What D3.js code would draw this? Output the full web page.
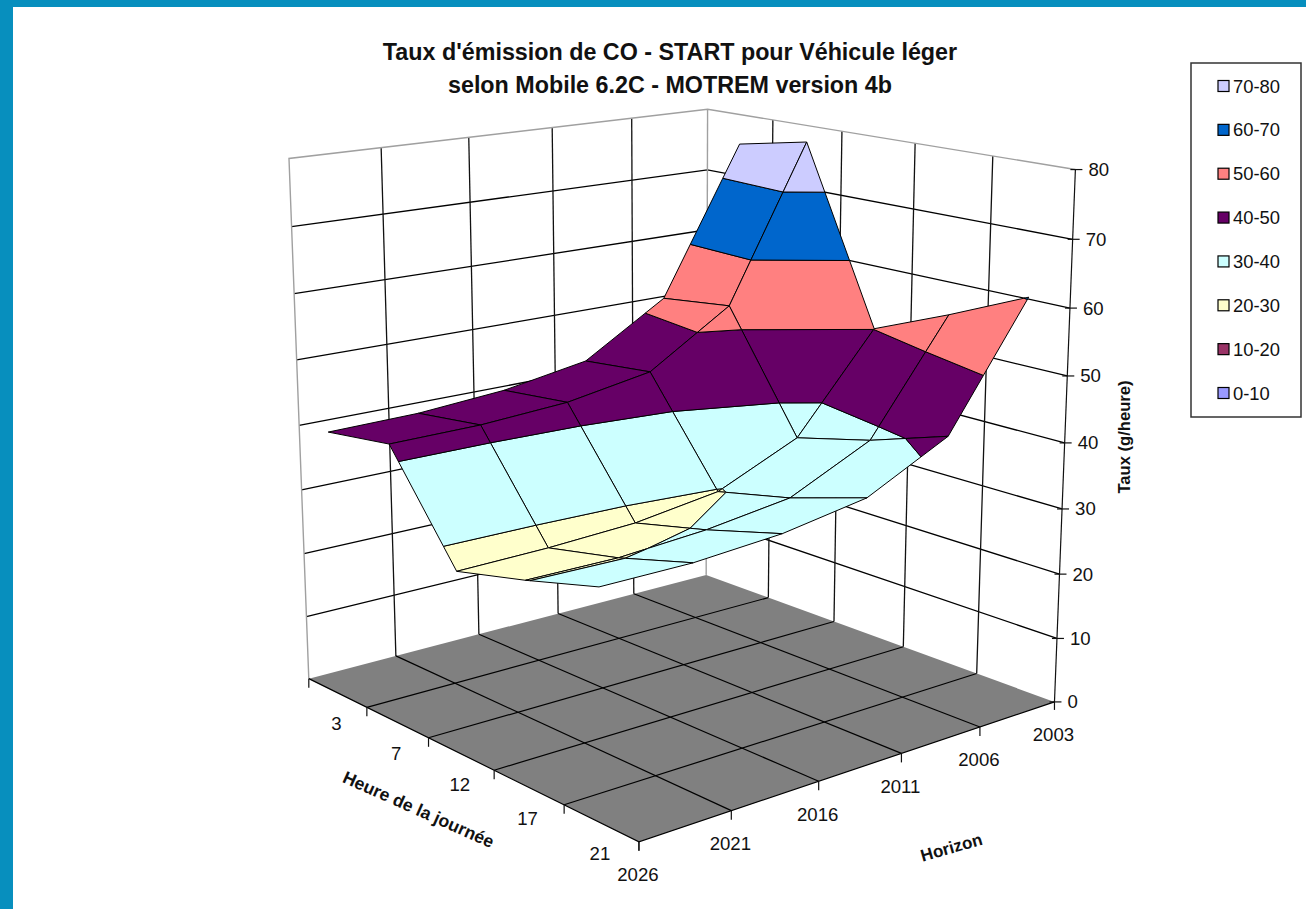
<!DOCTYPE html>
<html><head><meta charset="utf-8"><style>html,body{margin:0;background:#fff}svg{display:block}text{font-family:"Liberation Sans",Arial,sans-serif;fill:#111}</style>
<script src="https://cdn.jsdelivr.net/npm/d3@7/dist/d3.min.js"></script></head><body><svg id="c" width="1306" height="909"></svg>
<script>
// ---- data ----
const hours=[3,7,12,17,21];
const horizons=[2026,2021,2016,2011,2006,2003];
const taux2026=[40.6,42.1,27.1,29.8,32.9];
const taux2021=[40.8,42.2,27.3,29.7,32.9];
const taux2016=[41.8,43.0,27.9,30.6,33.8];
const taux2011=[44.0,45.2,29.7,32.3,35.9];
const taux2006=[51.9,53.3,35.3,38.2,42.1];
const taux2003=[75.2,77.4,50.1,55.0,60.3];
const tauxRows=[taux2026,taux2021,taux2016,taux2011,taux2006,taux2003];
const bandLabels=["0-10","10-20","20-30","30-40","40-50","50-60","60-70","70-80"];
const bandColors=["#9999ff","#993366","#ffffcc","#ccffff","#660066","#ff8080","#0066cc","#ccccff"];
const titleLines=["Taux d'émission de CO - START pour Véhicule léger","selon Mobile 6.2C - MOTREM version 4b"];

// ---- scales and 3D view ----
const uS=d3.scaleBand().domain(hours).range([0,1]);
const vS=d3.scalePoint().domain(horizons).range([0,1]);
const zS=d3.scaleLinear().domain([0,80]).range([0,1]);
const uC=h=>uS(h)+uS.bandwidth()/2;
const m=[0.2365418,0.4838895,-0.0346111,0.3088041,0.0397999,-0.0333340,-0.5282925,0.6786529,-0.1464674,0.1225374,-0.0511763];
function proj(u,v,z){const w=m[8]*u+m[9]*v+m[10]*z+1;return [1000*(m[0]*u+m[1]*v+m[2]*z+m[3])/w,1000*(m[4]*u+m[5]*v+m[6]*z+m[7])/w];}
const line=d3.line();
const svg=d3.select('#c');
const P=(pts)=>line(pts.map(p=>proj(...p)));

// page frame
svg.append('rect').attr('width',1306).attr('height',7).attr('fill','#078fbe');
svg.append('rect').attr('width',13).attr('height',909).attr('fill','#078fbe');

// titles
svg.selectAll('.t').data(titleLines).join('text').attr('class','t').attr('x',670).attr('y',(d,i)=>60+i*33)
 .attr('text-anchor','middle').attr('font-weight','bold').attr('font-size',23.3).text(d=>d);

const uTicks=d3.range(0,hours.length+1).map(i=>i/hours.length);
const vTicks=horizons.map(h=>vS(h));
const zTicks=zS.ticks(8);

// walls
const walls=svg.append('g').attr('fill','none');
zTicks.filter(t=>t>0&&t<80).forEach(t=>{const z=zS(t);
 walls.append('path').attr('d',P([[0,0,z],[0,1,z],[1,1,z]])).attr('stroke','#000').attr('stroke-width',1.3);});
vTicks.slice(1,-1).forEach(v=>walls.append('path').attr('d',P([[0,v,0],[0,v,1]])).attr('stroke','#111').attr('stroke-width',1.3));
uTicks.slice(1,-1).forEach(u=>walls.append('path').attr('d',P([[u,1,0],[u,1,1]])).attr('stroke','#111').attr('stroke-width',1.3));
walls.append('path').attr('d',P([[0,0,0],[0,0,1],[0,1,1],[1,1,1]])).attr('stroke','#a0a0a0').attr('stroke-width',1.4);
walls.append('path').attr('d',P([[0,1,0],[0,1,1]])).attr('stroke','#a0a0a0').attr('stroke-width',1.4);

// floor
const floor=svg.append('g').attr('fill','none');
floor.append('path').attr('d',P([[0,0,0],[1,0,0],[1,1,0],[0,1,0]])+'Z').attr('fill','#808080');
uTicks.slice(1,-1).forEach(u=>floor.append('path').attr('d',P([[u,0,0],[u,1,0]])).attr('stroke','#000').attr('stroke-width',1.2));
vTicks.slice(1,-1).forEach(v=>floor.append('path').attr('d',P([[0,v,0],[1,v,0]])).attr('stroke','#000').attr('stroke-width',1.2));
floor.append('path').attr('d',P([[0,0,0],[1,0,0],[1,1,0]])).attr('stroke','#000').attr('stroke-width',1.2);

// surface: every cell is cut into value bands
function clip(poly,test,val){const out=[];poly.forEach((a,i)=>{const b=poly[(i+1)%poly.length],ia=test(a[2]),ib=test(b[2]);
 if(ia)out.push(a);
 if(ia!==ib){const t=(val-a[2])/(b[2]-a[2]);out.push([a[0]+t*(b[0]-a[0]),a[1]+t*(b[1]-a[1]),val]);}});return out;}
const surf=svg.append('g').attr('stroke','#000').attr('stroke-width',1).attr('stroke-linejoin','round');
const pt=(iu,iv)=>[uC(hours[iu]),vS(horizons[iv]),tauxRows[iv][iu]];
for(let iv=horizons.length-2;iv>=0;iv--){for(let iu=0;iu<hours.length-1;iu++){
 const q=[pt(iu,iv),pt(iu+1,iv),pt(iu+1,iv+1),pt(iu,iv+1)];
 bandColors.forEach((col,b)=>{const lo=b*10,hi=lo+10;
  let c=clip(q,z=>z>=lo,lo);if(c.length)c=clip(c,z=>z<=hi,hi);
  if(c.length>2)surf.append('path').attr('d',line(c.map(p=>proj(p[0],p[1],zS(p[2]))))+'Z').attr('fill',col);});
}}

// axes
const ax=svg.append('g').attr('stroke','#111').attr('stroke-width',1.2).attr('fill','none');
ax.append('path').attr('d',P([[1,1,0],[1,1,1]]));
const R0=proj(1,1,0);ax.append('path').attr('d',line([R0,[R0[0],R0[1]+8]]));
uTicks.forEach(u=>{const p=proj(u,0,0);ax.append('path').attr('d',line([p,[p[0],p[1]+9]]));});
vTicks.slice(0,-1).forEach(v=>{const p=proj(1,v,0);ax.append('path').attr('d',line([p,[p[0],p[1]+9]]));});
zTicks.forEach(t=>{const p=proj(1,1,zS(t));ax.append('path').attr('d',line([[p[0]-5,p[1]],[p[0]+7,p[1]]]));});
const lab=svg.append('g').attr('font-size',18.6);
zTicks.forEach(t=>{const p=proj(1,1,zS(t));lab.append('text').attr('x',p[0]+13).attr('y',p[1]+6.5).text(t);});
hours.forEach(h=>{const p=proj(uC(h),0,0);lab.append('text').attr('x',p[0]-1).attr('y',p[1]+37.5).attr('text-anchor','middle').text(h);});
horizons.forEach(h=>{const p=proj(1,vS(h),0);lab.append('text').attr('x',p[0]-1).attr('y',p[1]+39.5).attr('text-anchor','middle').text(h);});

// axis titles
const at=svg.append('g').attr('font-weight','bold').attr('text-anchor','middle');
at.append('text').attr('font-size',16.6).attr('transform','translate(1130,437) rotate(-90)').text('Taux (g/heure)');
at.append('text').attr('font-size',17.6).attr('transform','translate(416,815) rotate(24)').text('Heure de la journée');
at.append('text').attr('font-size',17).attr('transform','translate(953,853) rotate(-16)').text('Horizon');

// legend
svg.append('rect').attr('x',1191).attr('y',63).attr('width',110).attr('height',354).attr('fill','#fff').attr('stroke','#333').attr('stroke-width',1.5);
const yL=d3.scalePoint().domain(bandLabels.slice().reverse()).range([86,393]);
const lg=svg.append('g').selectAll('g').data(d3.zip(bandLabels,bandColors)).join('g').attr('transform',d=>`translate(1218,${yL(d[0])})`);
lg.append('rect').attr('x',0).attr('y',-5.5).attr('width',11).attr('height',11).attr('fill',d=>d[1]).attr('stroke','#000').attr('stroke-width',1.2);
lg.append('text').attr('x',15).attr('y',6.5).attr('font-size',18.4).text(d=>d[0]);
</script></body></html>
